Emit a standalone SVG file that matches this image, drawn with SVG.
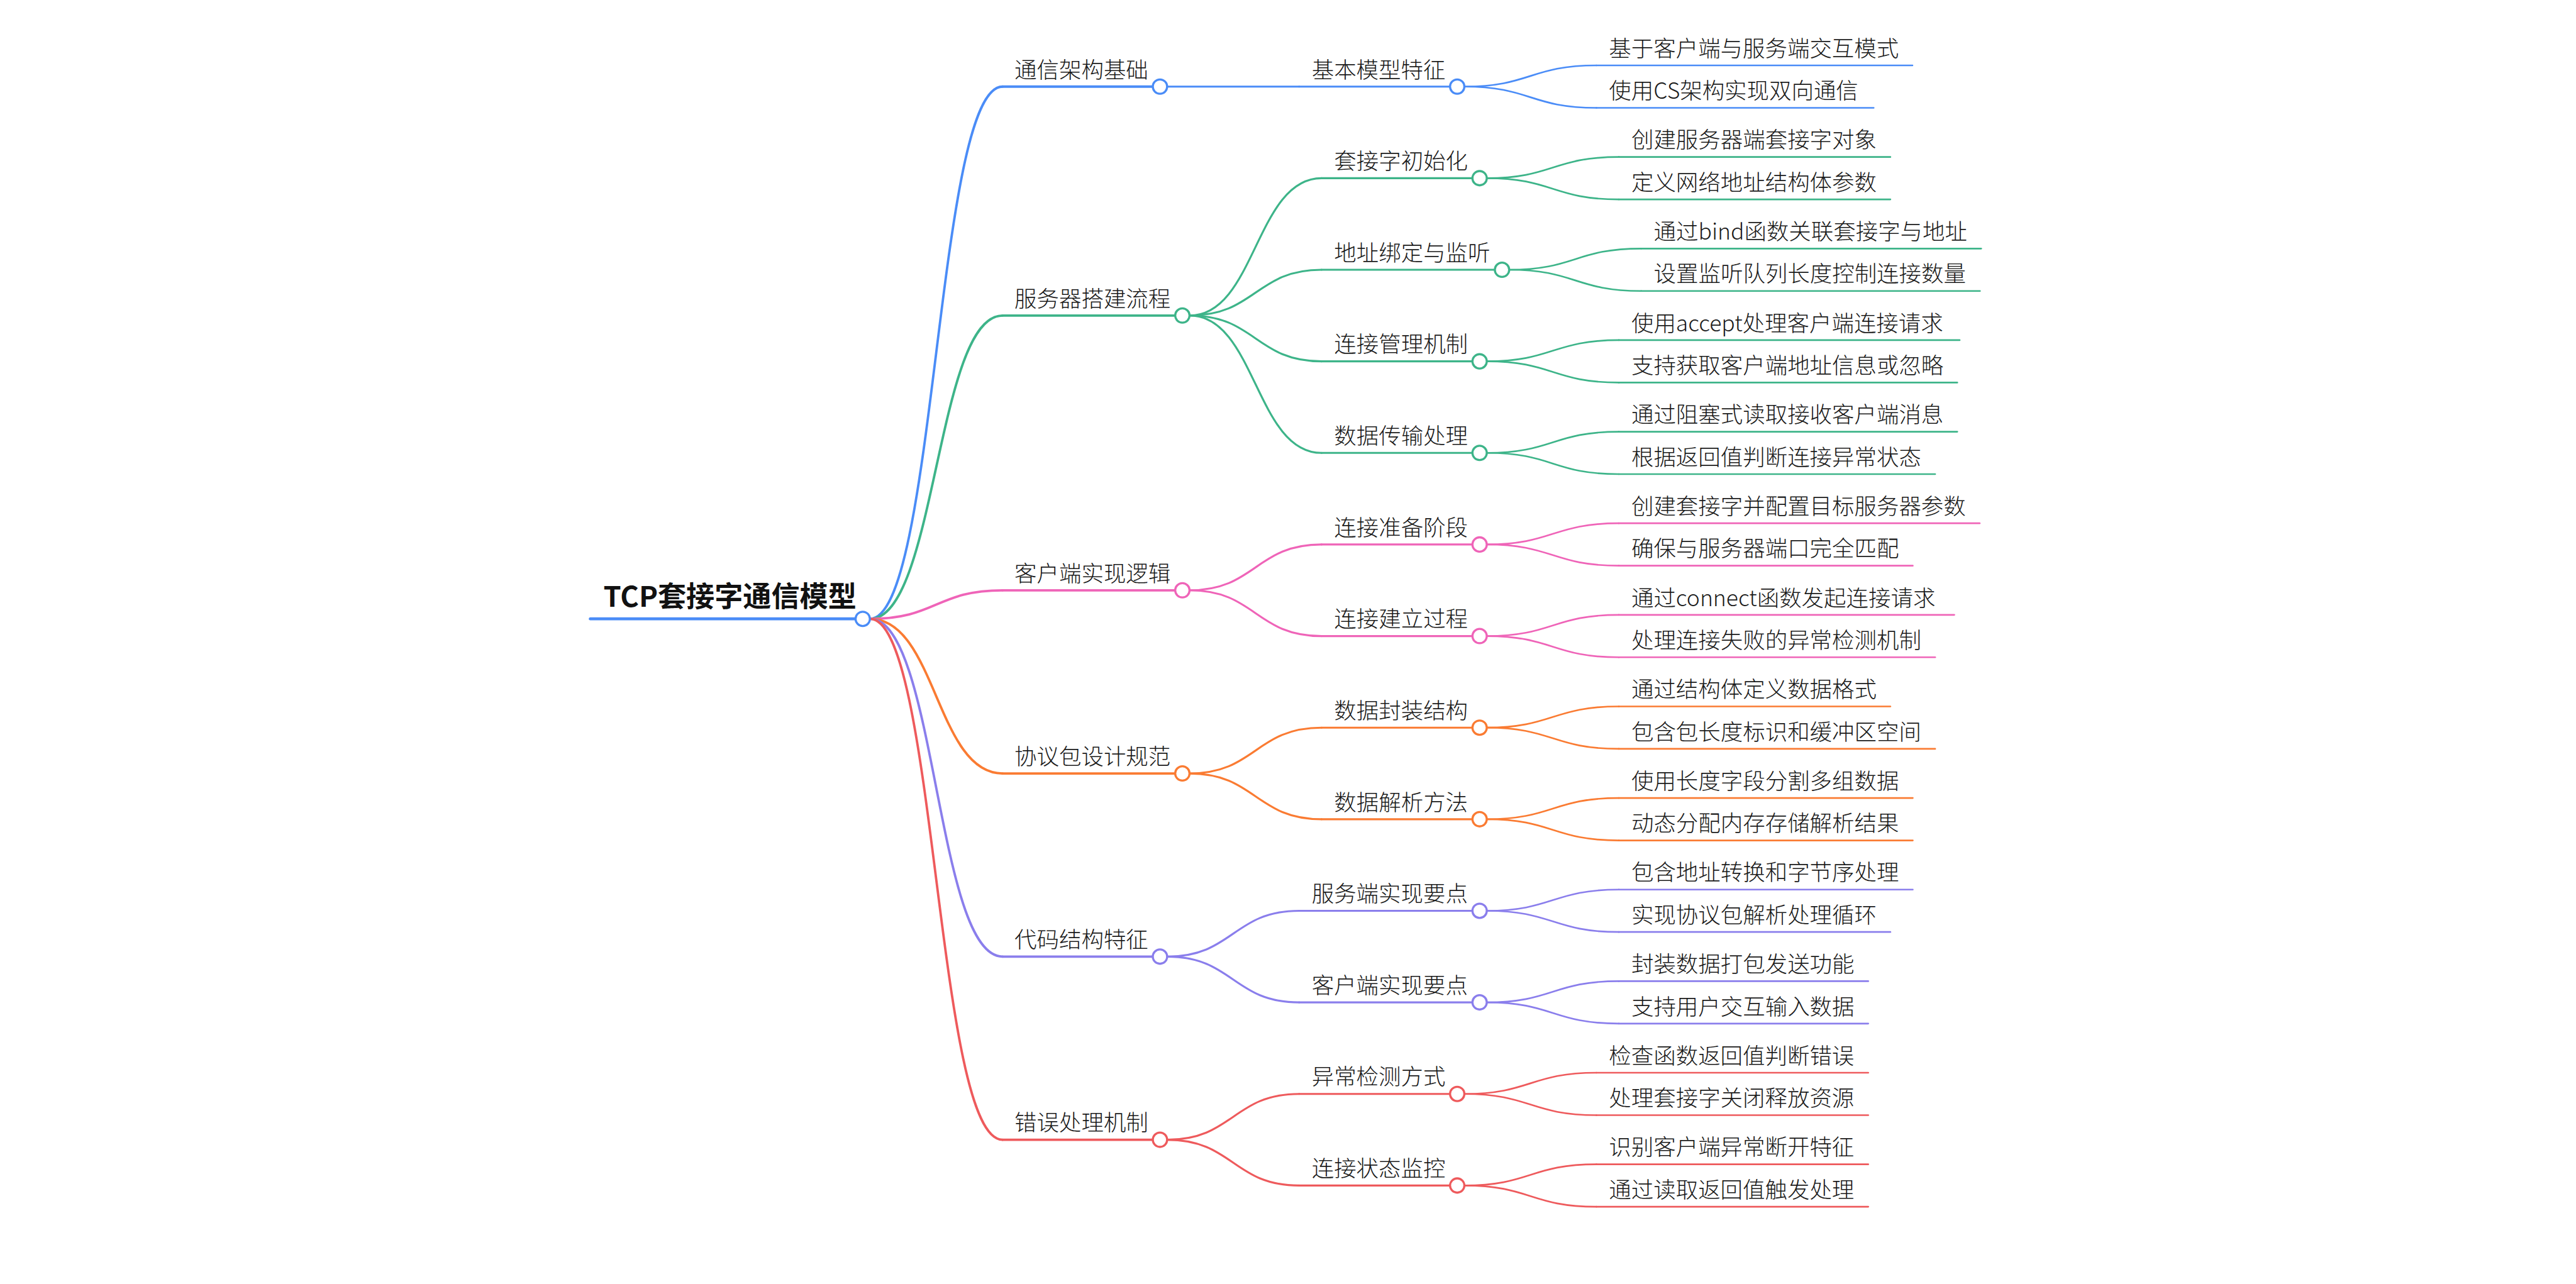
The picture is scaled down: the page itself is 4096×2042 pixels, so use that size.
<svg xmlns="http://www.w3.org/2000/svg" width="4096" height="2042" viewBox="0 0 4096 2042">
<style>
.t{font-family:"Noto Sans CJK SC","Noto Sans",sans-serif;font-size:37.33px;font-weight:300;fill:#1a1a1a;}
.rt{font-family:"Noto Sans CJK SC","Noto Sans",sans-serif;font-size:47.5px;font-weight:bold;fill:#111;}
path,line{fill:none;stroke-linecap:round;}
circle{fill:#fff;stroke-width:3.5;}
.b{stroke:#4A8CF7;} .g{stroke:#3DB489;} .p{stroke:#EF64B8;} .o{stroke:#FA7B32;} .v{stroke:#8A7EEC;} .r{stroke:#EE5A5C;}
.w0{stroke-width:5;} .w1{stroke-width:4;} .w2{stroke-width:3.3;} .w3{stroke-width:2.8;}
</style>
<rect width="4096" height="2042" fill="#fff"/>
<g transform="scale(0.95)">
<g id="connectors">
<path class="b w1" d="M1456 1036 C1567 1036 1567 145 1678 145"/>
<path class="g w1" d="M1456 1036 C1567 1036 1567 528.2 1678 528.2"/>
<path class="p w1" d="M1456 1036 C1567 1036 1567 988.2 1678 988.2"/>
<path class="o w1" d="M1456 1036 C1567 1036 1567 1294.8 1678 1294.8"/>
<path class="v w1" d="M1456 1036 C1567 1036 1567 1601.4 1678 1601.4"/>
<path class="r w1" d="M1456 1036 C1567 1036 1567 1908 1678 1908"/>
<path class="b w2" d="M1953.5 145 L2174.5 145"/>
<path class="g w2" d="M1991 528.2 C2101.5 528.2 2101.5 298.3 2212 298.3"/>
<path class="g w2" d="M1991 528.2 C2101.5 528.2 2101.5 451.6 2212 451.6"/>
<path class="g w2" d="M1991 528.2 C2101.5 528.2 2101.5 604.9 2212 604.9"/>
<path class="g w2" d="M1991 528.2 C2101.5 528.2 2101.5 758.2 2212 758.2"/>
<path class="p w2" d="M1991 988.2 C2101.5 988.2 2101.5 911.5 2212 911.5"/>
<path class="p w2" d="M1991 988.2 C2101.5 988.2 2101.5 1064.8 2212 1064.8"/>
<path class="o w2" d="M1991 1294.8 C2101.5 1294.8 2101.5 1218.1 2212 1218.1"/>
<path class="o w2" d="M1991 1294.8 C2101.5 1294.8 2101.5 1371.4 2212 1371.4"/>
<path class="v w2" d="M1953.5 1601.4 C2064 1601.4 2064 1524.7 2174.5 1524.7"/>
<path class="v w2" d="M1953.5 1601.4 C2064 1601.4 2064 1678 2174.5 1678"/>
<path class="r w2" d="M1953.5 1908 C2064 1908 2064 1831.3 2174.5 1831.3"/>
<path class="r w2" d="M1953.5 1908 C2064 1908 2064 1984.6 2174.5 1984.6"/>
<path class="b w3" d="M2451 145 C2561.5 145 2561.5 109.5 2672 109.5"/>
<path class="b w3" d="M2451 145 C2561.5 145 2561.5 180.5 2672 180.5"/>
<path class="g w3" d="M2488.5 298.3 C2599 298.3 2599 262.8 2709.5 262.8"/>
<path class="g w3" d="M2488.5 298.3 C2599 298.3 2599 333.8 2709.5 333.8"/>
<path class="g w3" d="M2526 451.6 C2636.5 451.6 2636.5 416.1 2747 416.1"/>
<path class="g w3" d="M2526 451.6 C2636.5 451.6 2636.5 487.1 2747 487.1"/>
<path class="g w3" d="M2488.5 604.9 C2599 604.9 2599 569.4 2709.5 569.4"/>
<path class="g w3" d="M2488.5 604.9 C2599 604.9 2599 640.4 2709.5 640.4"/>
<path class="g w3" d="M2488.5 758.2 C2599 758.2 2599 722.7 2709.5 722.7"/>
<path class="g w3" d="M2488.5 758.2 C2599 758.2 2599 793.7 2709.5 793.7"/>
<path class="p w3" d="M2488.5 911.5 C2599 911.5 2599 876 2709.5 876"/>
<path class="p w3" d="M2488.5 911.5 C2599 911.5 2599 947 2709.5 947"/>
<path class="p w3" d="M2488.5 1064.8 C2599 1064.8 2599 1029.3 2709.5 1029.3"/>
<path class="p w3" d="M2488.5 1064.8 C2599 1064.8 2599 1100.3 2709.5 1100.3"/>
<path class="o w3" d="M2488.5 1218.1 C2599 1218.1 2599 1182.6 2709.5 1182.6"/>
<path class="o w3" d="M2488.5 1218.1 C2599 1218.1 2599 1253.6 2709.5 1253.6"/>
<path class="o w3" d="M2488.5 1371.4 C2599 1371.4 2599 1335.9 2709.5 1335.9"/>
<path class="o w3" d="M2488.5 1371.4 C2599 1371.4 2599 1406.9 2709.5 1406.9"/>
<path class="v w3" d="M2488.5 1524.7 C2599 1524.7 2599 1489.2 2709.5 1489.2"/>
<path class="v w3" d="M2488.5 1524.7 C2599 1524.7 2599 1560.2 2709.5 1560.2"/>
<path class="v w3" d="M2488.5 1678 C2599 1678 2599 1642.5 2709.5 1642.5"/>
<path class="v w3" d="M2488.5 1678 C2599 1678 2599 1713.5 2709.5 1713.5"/>
<path class="r w3" d="M2451 1831.3 C2561.5 1831.3 2561.5 1795.8 2672 1795.8"/>
<path class="r w3" d="M2451 1831.3 C2561.5 1831.3 2561.5 1866.8 2672 1866.8"/>
<path class="r w3" d="M2451 1984.6 C2561.5 1984.6 2561.5 1949.1 2672 1949.1"/>
<path class="r w3" d="M2451 1984.6 C2561.5 1984.6 2561.5 2020.1 2672 2020.1"/>
</g>

<g id="root">
<path class="b w0" d="M988 1036 H1444"/>
<text class="rt" x="1010" y="1016">TCP套接字通信模型</text>
<circle class="b" cx="1444" cy="1036" r="12"/>
</g>

<g id="n1"><path class="b w1" d="M1678 145 H1941.5"/><text class="t" x="1698" y="130">通信架构基础</text><circle class="b" cx="1941.5" cy="145" r="12"/></g>
<g id="n2"><path class="g w1" d="M1678 528.2 H1979"/><text class="t" x="1698" y="513.2">服务器搭建流程</text><circle class="g" cx="1979" cy="528.2" r="12"/></g>
<g id="n3"><path class="p w1" d="M1678 988.2 H1979"/><text class="t" x="1698" y="973.2">客户端实现逻辑</text><circle class="p" cx="1979" cy="988.2" r="12"/></g>
<g id="n4"><path class="o w1" d="M1678 1294.8 H1979"/><text class="t" x="1698" y="1279.8">协议包设计规范</text><circle class="o" cx="1979" cy="1294.8" r="12"/></g>
<g id="n5"><path class="v w1" d="M1678 1601.4 H1941.5"/><text class="t" x="1698" y="1586.4">代码结构特征</text><circle class="v" cx="1941.5" cy="1601.4" r="12"/></g>
<g id="n6"><path class="r w1" d="M1678 1908 H1941.5"/><text class="t" x="1698" y="1893">错误处理机制</text><circle class="r" cx="1941.5" cy="1908" r="12"/></g>

<g id="n1-1"><path class="b w2" d="M2174.5 145 H2439"/><text class="t" x="2195.5" y="130">基本模型特征</text><circle class="b" cx="2439" cy="145" r="12"/></g>
<g id="n2-1"><path class="g w2" d="M2212 298.3 H2476.5"/><text class="t" x="2233" y="283.3">套接字初始化</text><circle class="g" cx="2476.5" cy="298.3" r="12"/></g>
<g id="n2-2"><path class="g w2" d="M2212 451.6 H2514"/><text class="t" x="2233" y="436.6">地址绑定与监听</text><circle class="g" cx="2514" cy="451.6" r="12"/></g>
<g id="n2-3"><path class="g w2" d="M2212 604.9 H2476.5"/><text class="t" x="2233" y="589.9">连接管理机制</text><circle class="g" cx="2476.5" cy="604.9" r="12"/></g>
<g id="n2-4"><path class="g w2" d="M2212 758.2 H2476.5"/><text class="t" x="2233" y="743.2">数据传输处理</text><circle class="g" cx="2476.5" cy="758.2" r="12"/></g>
<g id="n3-1"><path class="p w2" d="M2212 911.5 H2476.5"/><text class="t" x="2233" y="896.5">连接准备阶段</text><circle class="p" cx="2476.5" cy="911.5" r="12"/></g>
<g id="n3-2"><path class="p w2" d="M2212 1064.8 H2476.5"/><text class="t" x="2233" y="1049.8">连接建立过程</text><circle class="p" cx="2476.5" cy="1064.8" r="12"/></g>
<g id="n4-1"><path class="o w2" d="M2212 1218.1 H2476.5"/><text class="t" x="2233" y="1203.1">数据封装结构</text><circle class="o" cx="2476.5" cy="1218.1" r="12"/></g>
<g id="n4-2"><path class="o w2" d="M2212 1371.4 H2476.5"/><text class="t" x="2233" y="1356.4">数据解析方法</text><circle class="o" cx="2476.5" cy="1371.4" r="12"/></g>
<g id="n5-1"><path class="v w2" d="M2174.5 1524.7 H2476.5"/><text class="t" x="2195.5" y="1509.7">服务端实现要点</text><circle class="v" cx="2476.5" cy="1524.7" r="12"/></g>
<g id="n5-2"><path class="v w2" d="M2174.5 1678 H2476.5"/><text class="t" x="2195.5" y="1663">客户端实现要点</text><circle class="v" cx="2476.5" cy="1678" r="12"/></g>
<g id="n6-1"><path class="r w2" d="M2174.5 1831.3 H2439"/><text class="t" x="2195.5" y="1816.3">异常检测方式</text><circle class="r" cx="2439" cy="1831.3" r="12"/></g>
<g id="n6-2"><path class="r w2" d="M2174.5 1984.6 H2439"/><text class="t" x="2195.5" y="1969.6">连接状态监控</text><circle class="r" cx="2439" cy="1984.6" r="12"/></g>

<g id="l1"><path class="b w3" d="M2672 109.5 H3201"/><text class="t" x="2693" y="94.5">基于客户端与服务端交互模式</text></g>
<g id="l2"><path class="b w3" d="M2672 180.5 H3136"/><text class="t" x="2693" y="165.5">使用CS架构实现双向通信</text></g>
<g id="l3"><path class="g w3" d="M2709.5 262.8 H3164"/><text class="t" x="2730.5" y="247.8">创建服务器端套接字对象</text></g>
<g id="l4"><path class="g w3" d="M2709.5 333.8 H3164"/><text class="t" x="2730.5" y="318.8">定义网络地址结构体参数</text></g>
<g id="l5"><path class="g w3" d="M2747 416.1 H3316"/><text class="t" x="2768" y="401.1">通过bind函数关联套接字与地址</text></g>
<g id="l6"><path class="g w3" d="M2747 487.1 H3314"/><text class="t" x="2768" y="472.1">设置监听队列长度控制连接数量</text></g>
<g id="l7"><path class="g w3" d="M2709.5 569.4 H3280"/><text class="t" x="2730.5" y="554.4">使用accept处理客户端连接请求</text></g>
<g id="l8"><path class="g w3" d="M2709.5 640.4 H3276"/><text class="t" x="2730.5" y="625.4">支持获取客户端地址信息或忽略</text></g>
<g id="l9"><path class="g w3" d="M2709.5 722.7 H3276"/><text class="t" x="2730.5" y="707.7">通过阻塞式读取接收客户端消息</text></g>
<g id="l10"><path class="g w3" d="M2709.5 793.7 H3239"/><text class="t" x="2730.5" y="778.7">根据返回值判断连接异常状态</text></g>
<g id="l11"><path class="p w3" d="M2709.5 876 H3313.5"/><text class="t" x="2730.5" y="861">创建套接字并配置目标服务器参数</text></g>
<g id="l12"><path class="p w3" d="M2709.5 947 H3201.5"/><text class="t" x="2730.5" y="932">确保与服务器端口完全匹配</text></g>
<g id="l13"><path class="p w3" d="M2709.5 1029.3 H3271"/><text class="t" x="2730.5" y="1014.3">通过connect函数发起连接请求</text></g>
<g id="l14"><path class="p w3" d="M2709.5 1100.3 H3239"/><text class="t" x="2730.5" y="1085.3">处理连接失败的异常检测机制</text></g>
<g id="l15"><path class="o w3" d="M2709.5 1182.6 H3164"/><text class="t" x="2730.5" y="1167.6">通过结构体定义数据格式</text></g>
<g id="l16"><path class="o w3" d="M2709.5 1253.6 H3239"/><text class="t" x="2730.5" y="1238.6">包含包长度标识和缓冲区空间</text></g>
<g id="l17"><path class="o w3" d="M2709.5 1335.9 H3201.5"/><text class="t" x="2730.5" y="1320.9">使用长度字段分割多组数据</text></g>
<g id="l18"><path class="o w3" d="M2709.5 1406.9 H3201.5"/><text class="t" x="2730.5" y="1391.9">动态分配内存存储解析结果</text></g>
<g id="l19"><path class="v w3" d="M2709.5 1489.2 H3201.5"/><text class="t" x="2730.5" y="1474.2">包含地址转换和字节序处理</text></g>
<g id="l20"><path class="v w3" d="M2709.5 1560.2 H3164"/><text class="t" x="2730.5" y="1545.2">实现协议包解析处理循环</text></g>
<g id="l21"><path class="v w3" d="M2709.5 1642.5 H3127"/><text class="t" x="2730.5" y="1627.5">封装数据打包发送功能</text></g>
<g id="l22"><path class="v w3" d="M2709.5 1713.5 H3127"/><text class="t" x="2730.5" y="1698.5">支持用户交互输入数据</text></g>
<g id="l23"><path class="r w3" d="M2672 1795.8 H3127"/><text class="t" x="2693" y="1780.8">检查函数返回值判断错误</text></g>
<g id="l24"><path class="r w3" d="M2672 1866.8 H3127"/><text class="t" x="2693" y="1851.8">处理套接字关闭释放资源</text></g>
<g id="l25"><path class="r w3" d="M2672 1949.1 H3127"/><text class="t" x="2693" y="1934.1">识别客户端异常断开特征</text></g>
<g id="l26"><path class="r w3" d="M2672 2020.1 H3127"/><text class="t" x="2693" y="2005.1">通过读取返回值触发处理</text></g>
</g>
</svg>
